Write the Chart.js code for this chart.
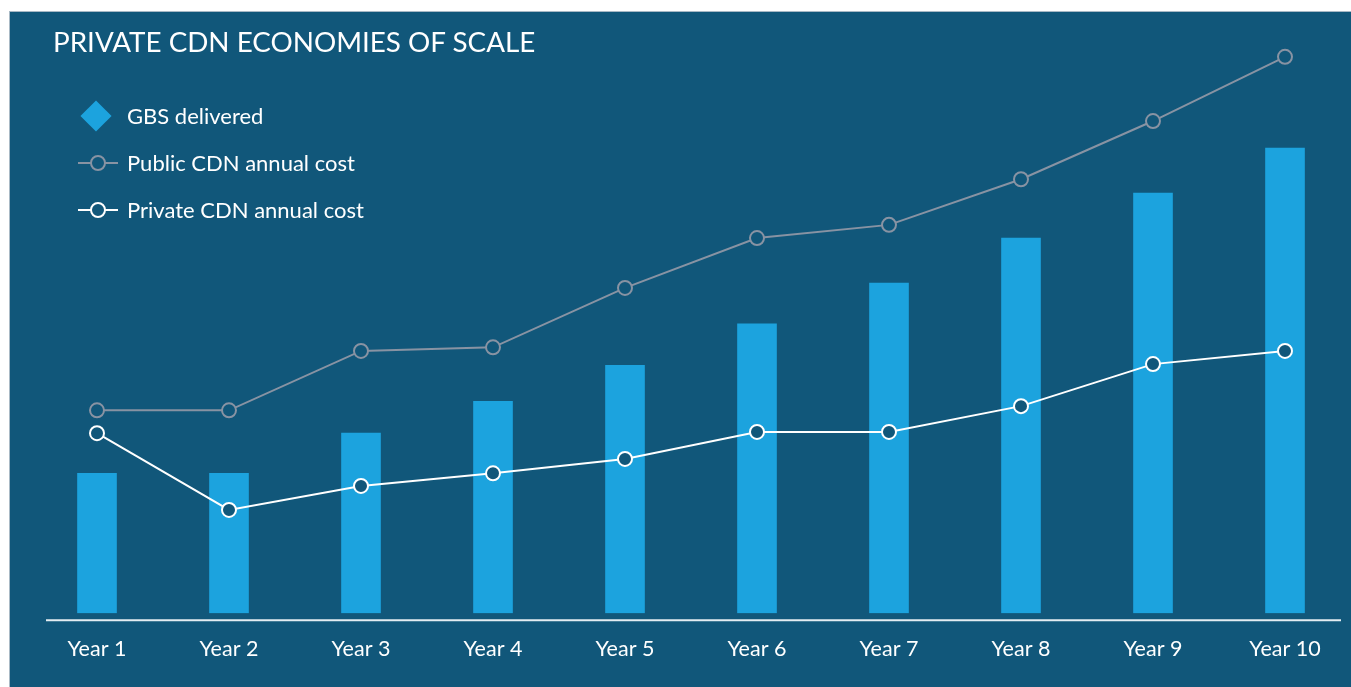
<!DOCTYPE html>
<html>
<head>
<meta charset="utf-8">
<script src="https://cdn.jsdelivr.net/npm/chart.js@4.4.1/dist/chart.umd.min.js"></script>
<style>
    html, body { margin: 0; padding: 0; background: #ffffff; overflow: hidden; }
    #wrap { position: relative; width: 1351px; height: 687px; font-family: Lato, "Open Sans", sans-serif; }
    #panel { position: absolute; left: 9px; top: 11px; right: 0; bottom: 0; background: #11577a; border-top: 1px solid #a8b9c5; border-left: 1px solid #a8b9c5; }
    #chartBox { position: absolute; left: 0; top: 0; width: 1351px; height: 687px; }
    #title { position: absolute; left: 53px; top: 25px; color: #ffffff; font-size: 27.8px; font-weight: 400; white-space: nowrap; }
    #legend { position: absolute; left: 76px; top: 92px; color: #ffffff; font-size: 22px; }
    #legend ul { list-style: none; margin: 0; padding: 0; }
    #legend li { display: flex; align-items: center; height: 47px; white-space: nowrap; }
    #legend .mark { position: relative; width: 44px; height: 34px; margin-right: 7px; }
    #legend .diamond { position: absolute; left: 9px; top: 6px; width: 22px; height: 22px; transform: rotate(45deg); }
    #legend .line { position: absolute; left: 2px; top: 16px; width: 40px; height: 2px; }
    #legend .dot { position: absolute; left: 14px; top: 9px; width: 12px; height: 12px; border-radius: 50%; border: 2px solid; background: #11577a; }
</style>
</head>
<body>
<div id="wrap">
    <div id="panel"></div>
    <div id="chartBox"><canvas id="cdnChart"></canvas></div>
    <div id="title">PRIVATE CDN ECONOMIES OF SCALE</div>
    <div id="legend"></div>
</div>
<script>
var years = ['Year 1', 'Year 2', 'Year 3', 'Year 4', 'Year 5', 'Year 6', 'Year 7', 'Year 8', 'Year 9', 'Year 10'];
var gbsDelivered = [23.3, 23.3, 30, 35.3, 41.3, 48.2, 55, 62.5, 70, 77.5];
var publicCost = [33.8, 33.8, 43.7, 44.3, 54.2, 62.5, 64.7, 72.3, 82, 92.7];
var privateCost = [30, 17.2, 21.2, 23.3, 25.7, 30.2, 30.2, 34.5, 41.5, 43.7];

var panelColor = '#11577a';
var barColor = '#1ca3de';
var publicColor = '#8893a3';
var privateColor = '#ffffff';

// html legend, built from the datasets
var htmlLegend = {
    id: 'htmlLegend',
    afterUpdate: function (chart) {
        var box = document.getElementById('legend');
        var html = '<ul>';
        chart.data.datasets.slice().sort(function (a, b) {
            return b.order - a.order;
        }).forEach(function (ds) {
            var mark;
            if (ds.type === 'bar') {
                mark = '<span class="diamond" style="background:' + ds.backgroundColor + '"></span>';
            } else {
                mark = '<span class="line" style="background:' + ds.borderColor + '"></span>' +
                    '<span class="dot" style="border-color:' + ds.borderColor + '"></span>';
            }
            html += '<li><span class="mark">' + mark + '</span><span>' + ds.label + '</span></li>';
        });
        box.innerHTML = html + '</ul>';
    }
};

// baseline sits a little below the bar bottoms and runs past the plot
var baseLine = {
    id: 'baseLine',
    afterDatasetsDraw: function (chart) {
        var ctx = chart.ctx;
        var y = chart.chartArea.bottom + 7;
        ctx.save();
        ctx.strokeStyle = '#e4edf2';
        ctx.lineWidth = 2;
        ctx.beginPath();
        ctx.moveTo(46, y);
        ctx.lineTo(1341, y);
        ctx.stroke();
        ctx.restore();
    }
};

var ctx = document.getElementById('cdnChart').getContext('2d');
new Chart(ctx, {
    data: {
        labels: years,
        datasets: [{
            type: 'line',
            label: 'Private CDN annual cost',
            data: privateCost,
            borderColor: privateColor,
            borderWidth: 2,
            pointRadius: 7,
            pointBorderWidth: 2,
            pointBackgroundColor: panelColor,
            pointBorderColor: privateColor,
            order: 1
        }, {
            type: 'line',
            label: 'Public CDN annual cost',
            data: publicCost,
            borderColor: publicColor,
            borderWidth: 2,
            pointRadius: 7,
            pointBorderWidth: 2,
            pointBackgroundColor: panelColor,
            pointBorderColor: publicColor,
            order: 2
        }, {
            type: 'bar',
            label: 'GBS delivered',
            data: gbsDelivered,
            backgroundColor: barColor,
            borderWidth: 0,
            barThickness: 39,
            order: 3
        }]
    },
    options: {
        responsive: true,
        maintainAspectRatio: false,
        animation: false,
        layout: {
            autoPadding: false,
            padding: { left: 31, right: 0, top: 13, bottom: 10 }
        },
        plugins: {
            legend: { display: false },
            tooltip: { enabled: false }
        },
        scales: {
            x: {
                offset: true,
                grid: { display: false },
                border: { display: false },
                ticks: {
                    color: '#ffffff',
                    padding: 15,
                    font: { family: 'Lato', size: 21.5 }
                }
            },
            y: {
                display: false,
                min: 0,
                max: 100
            }
        }
    },
    plugins: [htmlLegend, baseLine]
});
</script>
</body>
</html>
